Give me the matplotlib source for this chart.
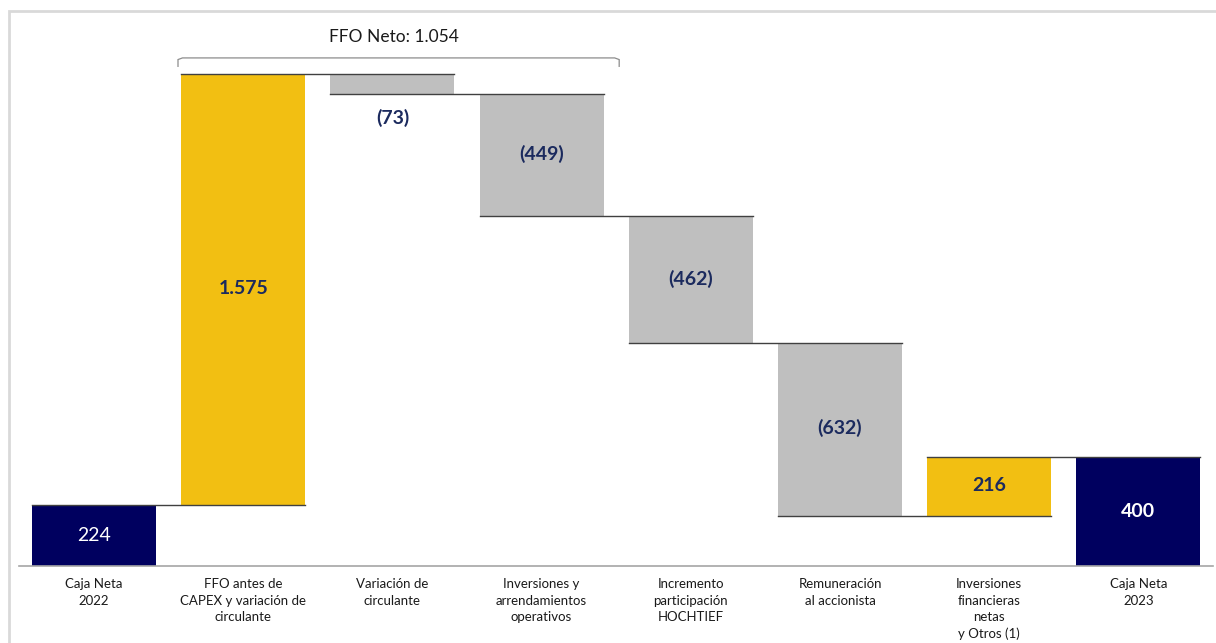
import matplotlib
matplotlib.use("Agg")
import matplotlib.pyplot as plt
from matplotlib.patches import Rectangle
from matplotlib.path import Path
from matplotlib.patches import PathPatch

categories = ["Caja Neta\n2022", "FFO antes de\nCAPEX y variación de\ncirculante",
              "Variación de\ncirculante", "Inversiones y\narrendamientos\noperativos",
              "Incremento\nparticipación\nHOCHTIEF", "Remuneración\nal accionista",
              "Inversiones\nfinancieras\nnetas\ny Otros (1)", "Caja Neta\n2023"]
values = [224, 1575, -73, -449, -462, -632, 216, 400]
kinds = ["total", "delta", "delta", "delta", "delta", "delta", "delta", "total"]
labels = ["224", "1.575", "(73)", "(449)", "(462)", "(632)", "216", "400"]
bracket_text = "FFO Neto: 1.054"

NAVY = "#00005F"
GOLD = "#F2BF12"
GRAY = "#BFBFBF"
LABEL = "#1B2A5E"

plt.rcParams['font.family'] = ['Lato', 'DejaVu Sans']

fig = plt.figure(figsize=(12.16, 6.43), dpi=100)
ax = fig.add_axes([19.4/1216, (643-566)/643, (1213-19.4)/1216, (566-30)/643])

width = 0.83
bottoms, heights, colors, levels = [], [], [], []
run = 0
for v, k in zip(values, kinds):
    if k == "total":
        bottoms.append(0); heights.append(v); colors.append(NAVY)
        run = v
    else:
        if v >= 0:
            bottoms.append(run); heights.append(v); colors.append(GOLD)
        else:
            bottoms.append(run + v); heights.append(-v); colors.append(GRAY)
        run += v
    levels.append(run)

x = list(range(len(values)))
ax.bar(x, heights, bottom=bottoms, width=width, color=colors, edgecolor='none', zorder=2)

# connector lines: from bar i left to bar i+1 right at running level
for i in range(len(values) - 1):
    lvl = levels[i]
    if kinds[i+1] == "total":
        lvl = values[i+1]
    ax.plot([x[i] - width/2, x[i+1] + width/2], [lvl, lvl], color="#404040", lw=1.0, zorder=3)

# value labels
for i, (b, h, lab) in enumerate(zip(bottoms, heights, labels)):
    if i == 0:
        ax.text(x[i], b + h/2, lab, ha='center', va='center', color='white', fontsize=14, zorder=4)
    elif i == len(values) - 1:
        ax.text(x[i], b + h/2, lab, ha='center', va='center', color='white', fontsize=14, fontweight='bold', zorder=4)
    elif h < 120:
        ax.text(x[i], b - 55, lab, ha='center', va='top', color=LABEL, fontsize=14, fontweight='bold', zorder=4)
    else:
        ax.text(x[i], b + h/2 + 4, lab, ha='center', va='center', color=LABEL, fontsize=14, fontweight='bold', zorder=4)

ax.set_xlim(-0.5, 7.5)
ax.set_ylim(0, 1958)

# bracket
x0, x1 = 0.563, 3.52
ytop, ybot = 1856, 1823
r = 0.03
verts = [(x0, ybot), (x0, ytop - 6), (x0 + r, ytop), (x1 - r, ytop), (x1, ytop - 6), (x1, ybot)]
codes = [Path.MOVETO, Path.LINETO, Path.LINETO, Path.LINETO, Path.LINETO, Path.LINETO]
ax.add_patch(PathPatch(Path(verts, codes), fill=False, edgecolor="#8C8C8C", lw=0.9, clip_on=False))
ax.text((x0 + x1) / 2 - 0.03, 1905, bracket_text, ha='center', va='bottom', fontsize=12.5, color='#1a1a1a', clip_on=False)

for s in ['top', 'right', 'left']:
    ax.spines[s].set_visible(False)
ax.spines['bottom'].set_color('#A6A6A6')
ax.spines['bottom'].set_linewidth(1.2)
ax.set_yticks([])
ax.set_xticks(x)
ax.set_xticklabels(categories, fontsize=9.5, color='#1a1a1a', linespacing=1.42)
ax.tick_params(axis='x', length=0, pad=9)

# outer frame
fig.add_artist(Rectangle((9/1216, -0.2), 1.5, 1.2 - 11/643, transform=fig.transFigure,
                         fill=False, edgecolor='#D9D9D9', lw=2, clip_on=False))

fig.savefig("out.png", dpi=100)
